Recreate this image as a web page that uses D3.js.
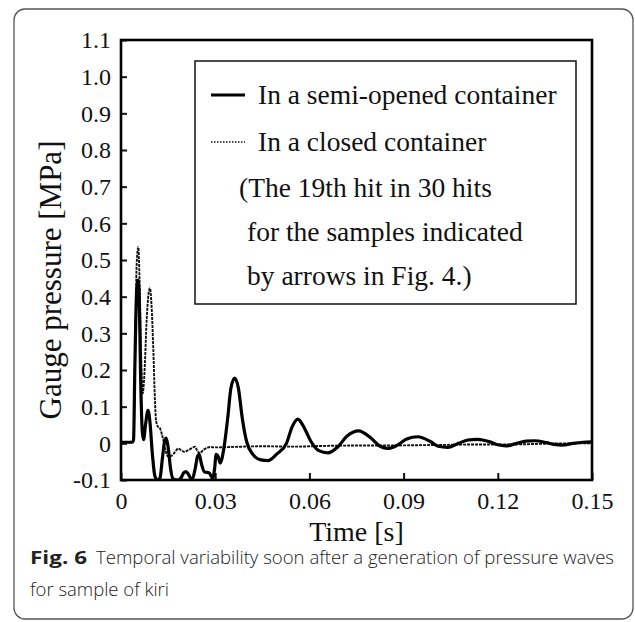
<!DOCTYPE html>
<html>
<head>
<meta charset="utf-8">
<script src="https://cdn.jsdelivr.net/npm/d3@7"></script>
<style>
body { margin: 0; background: #fff; }
svg { display: block; }
.axis text { font-family: "Liberation Serif", "Times New Roman", serif; font-size: 24px; fill: #111; }
.axis line { stroke: #111; stroke-width: 2; }
.serif { font-family: "Liberation Serif", "Times New Roman", serif; fill: #111; }
.cap { font-family: "Open Sans", "Noto Sans", sans-serif; font-size: 18.5px; fill: #222; }
</style>
</head>
<body>
<svg id="chart" width="635" height="622"></svg>
<script>
// tick values and labels
const xTicks = [0, 0.03, 0.06, 0.09, 0.12, 0.15];
const xTickLabels = ["0", "0.03", "0.06", "0.09", "0.12", "0.15"];
const yTicks = [-0.1, 0, 0.1, 0.2, 0.3, 0.4, 0.5, 0.6, 0.7, 0.8, 0.9, 1.0, 1.1];
const yTickLabels = ["-0.1", "0", "0.1", "0.2", "0.3", "0.4", "0.5", "0.6", "0.7", "0.8", "0.9", "1.0", "1.1"];

// semi-opened container (solid): time [s], pressure [MPa]
const semiTime = [0, 0.0036, 0.0040, 0.0044, 0.0050, 0.0054, 0.0058, 0.0062, 0.0068, 0.0072, 0.0078, 0.0086, 0.0092,
    0.0100, 0.0108, 0.0116, 0.0124, 0.0132, 0.0140, 0.0144, 0.0150, 0.0158, 0.0166, 0.0180, 0.0192, 0.0200, 0.0207,
    0.0215, 0.0226, 0.0236, 0.0244, 0.0249, 0.0256, 0.0266, 0.0280, 0.0292, 0.0298, 0.0303, 0.0309, 0.0316, 0.0322,
    0.0330, 0.0340, 0.0350, 0.0362, 0.0374, 0.0386, 0.0400, 0.0420, 0.0445, 0.0468, 0.0495, 0.0527, 0.0545, 0.0563,
    0.0582, 0.0605, 0.0630, 0.0659, 0.0690, 0.0720, 0.0757, 0.0795, 0.0825, 0.0850, 0.0880, 0.0910, 0.0945, 0.0985,
    0.1010, 0.1040, 0.1075, 0.1105, 0.1136, 0.1175, 0.1200, 0.1226, 0.1260, 0.1290, 0.1316, 0.1355, 0.1380, 0.1405,
    0.1440, 0.1470, 0.1500];
const semiPressure = [0.003, 0.003, 0.01, 0.2, 0.42, 0.445, 0.40, 0.2, 0.03, 0.01, 0.05, 0.09, 0.06,
    -0.03, -0.09, -0.1, -0.095, -0.04, 0.01, 0.014, -0.01, -0.07, -0.097, -0.1, -0.093, -0.08, -0.077,
    -0.085, -0.1, -0.07, -0.035, -0.03, -0.055, -0.078, -0.08, -0.095, -0.07, -0.03, -0.035, -0.054, -0.04,
    0.0, 0.07, 0.15, 0.178, 0.15, 0.07, 0.005, -0.03, -0.045, -0.047, -0.03, 0.0, 0.045, 0.066,
    0.045, 0.005, -0.02, -0.026, -0.01, 0.02, 0.034, 0.015, -0.008, -0.014, -0.005, 0.012, 0.018, 0.005,
    -0.008, -0.011, 0.0, 0.009, 0.011, 0.004, -0.004, -0.007, 0.0, 0.006, 0.007, 0.002, -0.003, -0.005,
    0.0, 0.003, 0.004];

// closed container (dotted)
const closedTime = [0, 0.0036, 0.0040, 0.0045, 0.0050, 0.0055, 0.0059, 0.0064, 0.0069, 0.0074, 0.0082, 0.0088, 0.0092,
    0.0097, 0.0103, 0.0108, 0.0112, 0.0118, 0.0124, 0.0130, 0.0135, 0.0142, 0.0150, 0.0158, 0.0166, 0.0175, 0.0182,
    0.0190, 0.0203, 0.0215, 0.0228, 0.0235, 0.0243, 0.0251, 0.0262, 0.0275, 0.0283, 0.0300, 0.0350, 0.0450, 0.0550,
    0.0650, 0.0750, 0.0850, 0.0950, 0.1050, 0.1150, 0.1250, 0.1350, 0.1500];
const closedPressure = [0.003, 0.003, 0.01, 0.25, 0.49, 0.535, 0.45, 0.25, 0.136, 0.18, 0.34, 0.41, 0.423,
    0.38, 0.254, 0.12, 0.06, 0.045, 0.041, 0.025, 0.008, -0.02, -0.036, -0.035, -0.03, -0.02, -0.014,
    -0.018, -0.023, -0.018, -0.012, -0.009, -0.02, -0.027, -0.018, -0.012, -0.01, -0.011, -0.01, -0.008, -0.009,
    -0.007, -0.006, -0.006, -0.005, -0.004, -0.003, -0.003, -0.001, 0.0];

const legendLines = ["In a semi-opened container", "In a closed container"];
const noteLines = ["(The 19th hit in 30 hits", "for the samples indicated", "by arrows in Fig. 4.)"];

const svg = d3.select("#chart");
const margin = { top: 40, right: 43, bottom: 142, left: 121 };
const width = 635 - margin.left - margin.right;
const height = 622 - margin.top - margin.bottom;

// outer figure frame
svg.append("rect")
    .attr("x", 14).attr("y", 9)
    .attr("width", 619).attr("height", 610)
    .attr("rx", 11)
    .attr("fill", "none")
    .attr("stroke", "#555")
    .attr("stroke-width", 1.3);

const g = svg.append("g").attr("transform", `translate(${margin.left},${margin.top})`);

const x = d3.scaleLinear().domain([0, 0.15]).range([0, width]);
const y = d3.scaleLinear().domain([-0.1, 1.1]).range([height, 0]);

g.append("defs").append("clipPath").attr("id", "plotClip")
    .append("rect").attr("x", 0).attr("y", -2).attr("width", width).attr("height", height + 2);

g.append("g")
    .attr("class", "axis")
    .call(d3.axisLeft(y).tickValues(yTicks).tickFormat((d, i) => yTickLabels[i])
        .tickSizeInner(-6).tickSizeOuter(0).tickPadding(10))
    .call(a => a.select(".domain").remove());

g.append("g")
    .attr("class", "axis")
    .attr("transform", `translate(0,${height})`)
    .call(d3.axisBottom(x).tickValues(xTicks).tickFormat((d, i) => xTickLabels[i])
        .tickSizeInner(-7).tickSizeOuter(0).tickPadding(12))
    .call(a => a.select(".domain").remove());

const line = d3.line()
    .x(d => x(d[0]))
    .y(d => y(d[1]))
    .curve(d3.curveMonotoneX);

const plot = g.append("g").attr("clip-path", "url(#plotClip)");

plot.append("path")
    .datum(closedTime.map((t, i) => [t, closedPressure[i]]))
    .attr("fill", "none")
    .attr("stroke", "#111")
    .attr("stroke-width", 1.9)
    .attr("stroke-dasharray", "3,1")
    .attr("d", line);

plot.append("path")
    .datum(semiTime.map((t, i) => [t, semiPressure[i]]))
    .attr("fill", "none")
    .attr("stroke", "#000")
    .attr("stroke-width", 3.2)
    .attr("stroke-linejoin", "round")
    .attr("d", line);

// plot frame
g.append("rect")
    .attr("width", width).attr("height", height)
    .attr("fill", "none")
    .attr("stroke", "#000")
    .attr("stroke-width", 2.6);

// legend box
const lg = svg.append("g");
lg.append("rect")
    .attr("x", 195).attr("y", 61)
    .attr("width", 381).attr("height", 243)
    .attr("fill", "#fff")
    .attr("stroke", "#111")
    .attr("stroke-width", 1.5);

lg.append("line")
    .attr("x1", 211).attr("x2", 245).attr("y1", 95).attr("y2", 95)
    .attr("stroke", "#000").attr("stroke-width", 3);
lg.append("line")
    .attr("x1", 211).attr("x2", 245).attr("y1", 142).attr("y2", 142)
    .attr("stroke", "#111").attr("stroke-width", 1.5).attr("stroke-dasharray", "1.5,1.5");

lg.selectAll(".leg")
    .data(legendLines)
    .enter().append("text")
    .attr("class", "serif")
    .attr("x", 258)
    .attr("y", (d, i) => 104 + i * 47)
    .style("font-size", "27.5px")
    .text(d => d);

lg.selectAll(".note")
    .data(noteLines)
    .enter().append("text")
    .attr("class", "serif")
    .attr("x", (d, i) => i === 0 ? 239 : 247)
    .attr("y", (d, i) => 197 + i * 44)
    .style("font-size", "27.5px")
    .text(d => d);

// axis titles
svg.append("text")
    .attr("class", "serif")
    .attr("x", margin.left + width / 2)
    .attr("y", 541)
    .attr("text-anchor", "middle")
    .style("font-size", "28px")
    .text("Time [s]");

svg.append("text")
    .attr("class", "serif")
    .attr("transform", "translate(61,280) rotate(-90)")
    .attr("text-anchor", "middle")
    .style("font-size", "31px")
    .text("Gauge pressure [MPa]");

// caption
svg.append("text")
    .attr("class", "cap")
    .attr("x", 30).attr("y", 564)
    .attr("textLength", 57).attr("lengthAdjust", "spacingAndGlyphs")
    .style("font-weight", "bold")
    .text("Fig. 6");

svg.append("text")
    .attr("class", "cap")
    .attr("x", 96).attr("y", 564)
    .attr("textLength", 518).attr("lengthAdjust", "spacingAndGlyphs")
    .style("font-weight", 300)
    .text("Temporal variability soon after a generation of pressure waves");

svg.append("text")
    .attr("class", "cap")
    .attr("x", 30).attr("y", 596)
    .attr("textLength", 139).attr("lengthAdjust", "spacingAndGlyphs")
    .style("font-weight", 300)
    .text("for sample of kiri");
</script>
</body>
</html>
